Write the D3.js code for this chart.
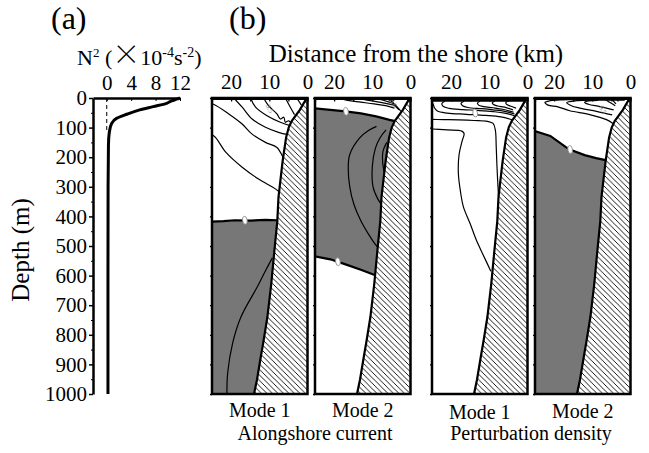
<!DOCTYPE html>
<html><head><meta charset="utf-8">
<script src="https://cdn.jsdelivr.net/npm/d3@7"></script>
<style>
body{margin:0;background:#fff}
svg{display:block}
text{font-family:"Liberation Serif","Times New Roman",serif;fill:#000}
</style>
</head><body>
<svg id="c" width="649" height="453"></svg>
<script>
// ---- (a) buoyancy frequency profile ----
const n2Depth = [0, 3, 10, 18, 29, 40, 55, 69, 86, 114, 159, 300, 600, 1000];
const n2Value = [12, 11.6, 10.6, 9.8, 7.6, 5.4, 3.3, 1.6, 0.8, 0.43, 0.28, 0.22, 0.2, 0.2];
const n2Ticks = [0, 4, 8, 12];
const depthTicks = d3.range(0, 1001, 100);
const depthMinor = d3.range(50, 1000, 100);

// ---- (b) shelf / slope bottom (distance km, depth m) ----
const bottomKm    = [0, 0.6, 2, 4.1, 4.9, 5.6, 6.5, 7.1, 7.6, 7.9, 8.7, 9.5, 10.5, 11.5, 12.3, 13.2, 14];
const bottomDepth = [0, 9, 40, 77, 99, 133, 212, 279, 336, 415, 520, 630, 740, 820, 880, 950, 1000];
const kmTicks = [25, 20, 15, 10, 5, 0];

// Alongshore current, mode 1
const acM1Zero = [[26,418],[22,416],[19,413],[15,414],[11,412],[8,413],[7,413]];
const acM1Lines = [
  [[26,18],[24.5,22],[20.6,54],[17.1,88],[14.5,122],[11,150],[8,167],[6.4,200]],
  [[26,125],[24.5,128],[21.4,183],[17.1,234],[12.8,274],[8.4,307],[7,322]],
  [[19.3,0],[17.1,31],[14.5,71],[11,99],[7.6,116],[5,124]],
  [[14.9,0],[13.6,31],[10.6,60],[7.1,82],[4.3,94]],
  [[11.5,0],[10.2,26],[8,54],[7.1,71],[6.2,65],[5.8,82],[4.9,77],[4,90]],
  [[5.8,0],[4.5,31],[3.4,56]],
  [[2.8,0],[1.6,24]],
  [[9.2,540],[10.9,581],[13.1,637],[17.4,739],[19.6,828],[20.9,929],[21.1,1000]]
];
// Alongshore current, mode 2
const acM2ZeroTop = [[26,34],[21,40],[17,45],[13,52],[9,62],[5.5,74],[4,78]];
const acM2ZeroBot = [[26,533],[21,545],[17,562],[13,580],[9.4,598],[8,602]];
const acM2Lines = [
  [[8.9,96],[11,110],[13.3,135],[15.9,191],[16.3,236],[15.9,300],[14.8,360],[13,415],[11,460],[9.4,491],[8.3,508]],
  [[6.4,108],[8,135],[9.2,170],[10,232],[9.8,300],[8.6,340],[7.5,362]],
  [[6.2,150],[7.2,180],[7.3,215],[6.9,250]],
  [[19,0],[16.5,8],[13,14],[9.5,20],[6.5,26],[4.2,34]],
  [[14.5,0],[12,6],[9,12],[6.5,18],[4.3,24]],
  [[10,0],[8,5],[6,12],[4.3,19]],
  [[7,0],[5.6,7],[4.4,15]],
  [[5,0],[4.3,10]],
  [[4.3,19],[3.5,30],[2.5,45]],
  [[4.3,24],[3,40]]
];
// Perturbation density, mode 1
const pdM1Surface = [
  [[26,3],[0.3,3]],
  [[26,6],[0.5,6]],
  [[26,9],[0.7,9]]
];
const pdM1Lines = [
  [[25.2,11],[24.7,20],[24.4,32],[23.6,44],[21,51],[16,55],[11,59],[7,64],[3.8,74]],
  [[21.6,11],[22.4,18],[22.1,28],[20.5,35],[17,39],[13,42],[9,46],[6,51],[3.4,60]],
  [[16.6,11],[17.4,18],[17,26],[15.6,32],[12,36],[9,40],[6,45],[3.4,54]],
  [[12.4,11],[13.1,17],[12.8,24],[11.5,29],[9,33],[6.5,38],[3.6,48]],
  [[8.6,11],[9.2,16],[8.9,22],[7.8,27],[6,31],[3.8,40]],
  [[5.2,11],[5.7,16],[5.4,22],[4.5,27],[3,34]],
  [[26,72],[22,73],[18,74],[14,76],[10.5,79],[9,86],[8.4,110],[8.2,160],[8,230],[7.6,330]],
  [[26,104],[21,108],[17.2,112],[16.6,120],[17.1,145],[17.9,190],[18.1,254],[17.5,320],[16.8,367],[15,425],[13.4,480],[11.6,530],[9.6,585]]
];
// Perturbation density, mode 2
const pdM2Zero = [[26,108],[21,128],[17,165],[15.9,174],[12,193],[9,203],[6.5,210],[5.8,212]];
const pdM2Surface = [
  [[14,3],[1,3]],
  [[11,6],[1.5,6]]
];
const pdM2Lines = [
  [[13,6],[18,6],[21,9],[22.4,15],[21.6,24],[19,30],[15.9,43],[10.7,56],[6.3,73],[4.6,86]],
  [[10,7],[14,9],[16.7,16],[15.5,26],[13.3,34],[8.9,45],[4.8,57]],
  [[8.5,8],[11,10],[12,15],[11,21],[8,29],[4.4,40]],
  [[7,0],[6,10],[5,18],[4,26]],
  [[5,0],[4.5,10],[3.8,20]],
  [[3.5,0],[3.2,12]]
];

// contour labels [km, depth, text]
const acM1Labels = [[16.4,413,"0"],[9.9,36,"0.5"]];
const acM2Labels = [[16.9,45,"0"],[19,553,"0"],[4.5,17,"0.5"]];
const pdM1Labels = [[13.7,51,"0"]];
const pdM2Labels = [[15.8,174,"0"],[7.2,40,"0.5"]];

const svg = d3.select("#c");
const defs = svg.append("defs");
defs.append("pattern").attr("id", "hatch").attr("patternUnits", "userSpaceOnUse")
  .attr("width", 5.5).attr("height", 5.5)
  .append("path").attr("d", "M0,0L5.5,5.5M-1,4.5L1,6.5M4.5,-1L6.5,1")
  .attr("stroke", "#000").attr("stroke-width", 0.9);

const depthY = d3.scaleLinear().domain([0, 1000]).range([98, 394]);
const SERIF = '"Liberation Serif","Times New Roman",serif';

function styleAxisText(g, size) {
  g.selectAll("text").attr("font-family", SERIF).attr("font-size", size).attr("fill", "#000");
}

// ---------- panel (a) ----------
const n2X = d3.scaleLinear().domain([-2.25, 12]).range([93, 180]);
const ga = svg.append("g");
ga.append("line").attr("x1", n2X(0)).attr("x2", n2X(0))
  .attr("y1", depthY(0)).attr("y2", depthY(110))
  .attr("stroke", "#000").attr("stroke-width", 1).attr("stroke-dasharray", "4,3");
ga.append("path")
  .datum(d3.zip(n2Value, n2Depth))
  .attr("fill", "none").attr("stroke", "#000").attr("stroke-width", 3)
  .attr("d", d3.line().x(d => n2X(d[0])).y(d => depthY(d[1])).curve(d3.curveMonotoneY));

const axL = ga.append("g").attr("transform", `translate(${n2X.range()[0]},0)`)
  .call(d3.axisLeft(depthY).tickValues(depthTicks).tickFormat(d3.format("d"))
    .tickSizeInner(4).tickSizeOuter(0).tickPadding(2));
axL.select(".domain").attr("stroke-width", 2.5);
axL.selectAll(".tick line").attr("stroke-width", 1.5);
styleAxisText(axL, 21);
ga.append("g").attr("transform", `translate(${n2X.range()[0]},0)`)
  .call(d3.axisLeft(depthY).tickValues(depthMinor).tickSize(2).tickFormat(""))
  .call(g => g.select(".domain").remove());

const axT = ga.append("g").attr("transform", `translate(0,${depthY(0)})`)
  .call(d3.axisTop(n2X).tickValues(n2Ticks).tickSizeInner(-3).tickSizeOuter(0).tickPadding(8));
axT.select(".domain").attr("stroke-width", 2.5);
styleAxisText(axT, 21);

// ---------- panel (b) ----------
const panels = [
  {left: 212, surface: [], lines: acM1Lines, zeros: [acM1Zero], fill: "below", labels: acM1Labels, mode: "Mode 1", ly: 417},
  {left: 315, surface: [], lines: acM2Lines, zeros: [acM2ZeroTop, acM2ZeroBot], fill: "between", labels: acM2Labels, mode: "Mode 2", ly: 417},
  {left: 432, surface: pdM1Surface, lines: pdM1Lines, zeros: [], fill: "none", labels: pdM1Labels, mode: "Mode 1", ly: 419},
  {left: 535, surface: pdM2Surface, lines: pdM2Lines, zeros: [pdM2Zero], fill: "below", labels: pdM2Labels, mode: "Mode 2", ly: 418}
];
const PW = 95.5;
const bottom = d3.zip(bottomKm, bottomDepth);

panels.forEach((p, i) => {
  const kx = d3.scaleLinear().domain([25, 0]).range([p.left, p.left + PW]);
  const line = d3.line().x(d => kx(d[0])).y(d => depthY(d[1]));
  const smooth = d3.line().x(d => kx(d[0])).y(d => depthY(d[1])).curve(d3.curveCatmullRom.alpha(0.5));
  const cid = "clip" + i;
  defs.append("clipPath").attr("id", cid).append("rect")
    .attr("x", p.left).attr("y", depthY(0)).attr("width", PW).attr("height", depthY(1000) - depthY(0));
  const g = svg.append("g").attr("clip-path", `url(#${cid})`);

  // negative-value shading
  if (p.fill === "below") {
    const z = p.zeros[0];
    const poly = z.concat([[-1, z[z.length - 1][1]], [-1, 1001], [26, 1001]]);
    g.append("path").attr("d", line(poly) + "Z").attr("fill", "#777");
  } else if (p.fill === "between") {
    const a = p.zeros[0], b = p.zeros[1];
    const poly = a.concat([[-1, a[a.length - 1][1]], [-1, b[b.length - 1][1]]], b.slice().reverse());
    g.append("path").attr("d", line(poly) + "Z").attr("fill", "#777");
  }

  // densely packed contours right under the surface
  g.selectAll(".sf").data(p.surface).join("path")
    .attr("fill", "none").attr("stroke", "#000").attr("stroke-width", 2)
    .attr("d", line);
  g.selectAll(".ct").data(p.lines).join("path")
    .attr("fill", "none").attr("stroke", "#000").attr("stroke-width", 1.2)
    .attr("d", smooth);
  g.selectAll(".zr").data(p.zeros).join("path")
    .attr("fill", "none").attr("stroke", "#000").attr("stroke-width", 2.2)
    .attr("d", line);

  // contour labels
  p.labels.forEach(l => {
    const lg = g.append("g").attr("transform", `translate(${kx(l[0])},${depthY(l[1])}) rotate(${l[2] === "0" ? -10 : 60})`);
    if (l[2] === "0") {
      lg.append("ellipse").attr("rx", 2.3).attr("ry", 4).attr("fill", "#fff").attr("stroke", "#888").attr("stroke-width", 0.8);
    } else {
      lg.append("text").attr("text-anchor", "middle").attr("dy", "0.35em")
        .attr("font-size", 7).style("fill", "#888").text(l[2]);
    }
  });

  // shelf and slope
  const land = bottom.concat([[-1, 1001], [-1, -1], [0, -1]]);
  g.append("path").attr("d", line(land) + "Z").attr("fill", "#fff");
  g.append("path").attr("d", line(land) + "Z").attr("fill", "url(#hatch)");
  g.append("path").attr("d", line(bottom)).attr("fill", "none").attr("stroke", "#000").attr("stroke-width", 2.2);

  // frame and axes
  svg.append("rect").attr("x", p.left).attr("y", depthY(0)).attr("width", PW)
    .attr("height", depthY(1000) - depthY(0)).attr("fill", "none").attr("stroke", "#000").attr("stroke-width", 2.5);
  const at = svg.append("g").attr("transform", `translate(0,${depthY(0)})`)
    .call(d3.axisTop(kx).tickValues(kmTicks).tickSizeInner(-3.5).tickSizeOuter(0).tickPadding(9)
      .tickFormat(d => d % 10 === 0 ? d : ""));
  at.select(".domain").attr("stroke-width", 3);
  at.selectAll(".tick line").attr("stroke-width", 1.3);
  styleAxisText(at, 21);
  svg.append("g").attr("transform", `translate(${p.left},0)`)
    .call(d3.axisLeft(depthY).tickValues(depthTicks).tickSize(2).tickFormat(""))
    .call(gg => gg.select(".domain").remove())
    .selectAll("line").attr("stroke-width", 1.3);

  svg.append("text").attr("x", p.left + PW / 2).attr("y", p.ly).attr("text-anchor", "middle")
    .attr("font-size", 20).text(p.mode);
});

// ---------- titles ----------
svg.append("text").attr("x", 51).attr("y", 29).attr("font-size", 32).text("(a)");
svg.append("text").attr("x", 229).attr("y", 29).attr("font-size", 32).text("(b)");

const n2t = svg.append("text").attr("x", 77).attr("y", 65).attr("font-size", 22);
n2t.append("tspan").text("N");
n2t.append("tspan").attr("font-size", 13).attr("dy", -8).text("2");
n2t.append("tspan").attr("dy", 8).text(" (");
n2t.append("tspan").attr("font-family", '"Noto Sans CJK JP",sans-serif').attr("font-size", 28).attr("font-weight", 300).text("×");
n2t.append("tspan").text("10");
n2t.append("tspan").attr("font-size", 14).attr("dy", -8).text("-4");
n2t.append("tspan").attr("dy", 8).text("s");
n2t.append("tspan").attr("font-size", 14).attr("dy", -8).text("-2");
n2t.append("tspan").attr("dy", 8).text(")");

svg.append("text").attr("transform", "translate(29,250) rotate(-90)")
  .attr("text-anchor", "middle").attr("font-size", 25).text("Depth (m)");
svg.append("text").attr("x", 416).attr("y", 62).attr("text-anchor", "middle")
  .attr("font-size", 25).text("Distance from the shore (km)");
svg.append("text").attr("x", 315).attr("y", 440).attr("text-anchor", "middle")
  .attr("font-size", 20).text("Alongshore current");
svg.append("text").attr("x", 531).attr("y", 440).attr("text-anchor", "middle")
  .attr("font-size", 20).text("Perturbation density");
</script>
</body></html>
